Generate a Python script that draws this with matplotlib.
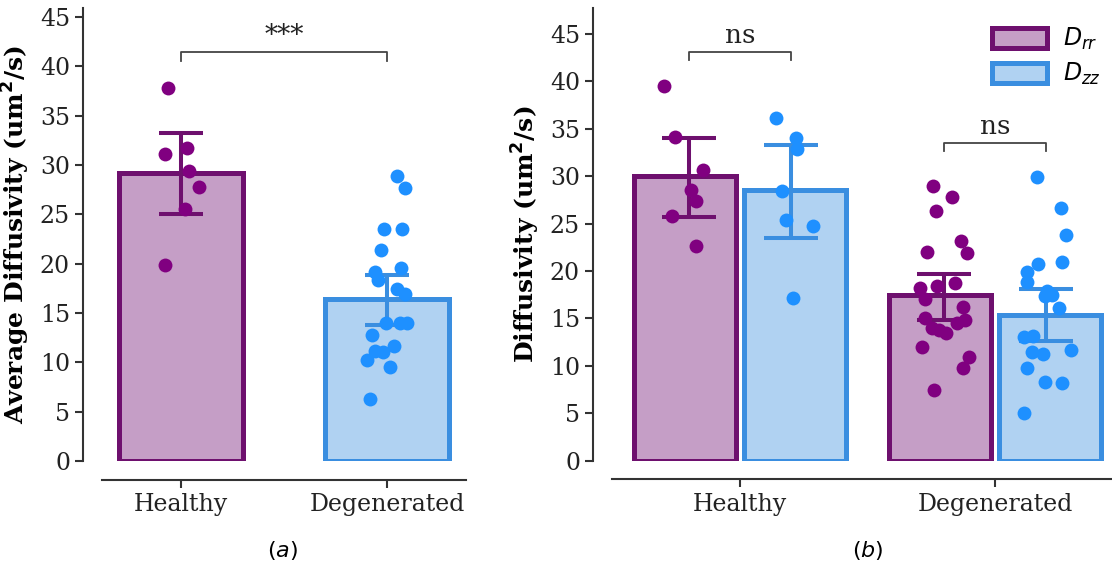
import numpy as np
import matplotlib
matplotlib.use('Agg')
import matplotlib.pyplot as plt
from matplotlib.patches import Patch

plt.rcParams['font.family'] = ['DejaVu Serif']
plt.rcParams['mathtext.fontset'] = 'dejavusans'

groups = ['Healthy', 'Degenerated']

# (a) average diffusivity
avg_mean = [29.2, 16.4]
avg_ci_low = [25.0, 13.8]
avg_ci_high = [33.2, 18.85]
avg_healthy = [37.8, 31.1, 31.7, 29.4, 27.8, 25.5, 19.9]
avg_healthy_jit = [-0.063, -0.073, 0.029, 0.039, 0.087, 0.019, -0.073]
avg_degen = [28.9, 27.7, 23.5, 23.5, 21.4, 19.6, 19.2, 18.3, 17.4, 16.9,
             14.0, 14.0, 13.95, 12.8, 11.65, 11.1, 11.0, 10.2, 9.5, 6.25]
avg_degen_jit = [0.047, 0.083, -0.018, 0.071, -0.029, 0.067, -0.058, -0.047, 0.044, 0.087,
                 -0.005, 0.063, 0.096, -0.074, 0.031, -0.058, -0.021, -0.099, 0.011, -0.083]

# (b) Drr / Dzz
drr_mean = [30.0, 17.5]
drr_ci_low = [25.7, 14.85]
drr_ci_high = [34.0, 19.7]
dzz_mean = [28.5, 15.4]
dzz_ci_low = [23.5, 12.6]
dzz_ci_high = [33.3, 18.1]

drr_healthy = [39.5, 34.1, 30.6, 28.5, 27.4, 25.8, 22.6]
drr_healthy_jit = [-0.096, -0.052, 0.056, 0.011, 0.027, -0.067, 0.030]
dzz_healthy = [36.15, 34.0, 32.85, 28.4, 25.4, 24.7, 17.2]
dzz_healthy_jit = [-0.058, 0.022, 0.023, -0.036, -0.018, 0.087, 0.007]
drr_degen = [28.96, 27.8, 26.3, 23.2, 21.9, 22.05, 18.7, 18.4, 18.2, 17.1, 16.25,
             15.0, 14.85, 14.5, 14.0, 13.75, 13.45, 12.0, 10.97, 9.75, 7.5]
drr_degen_jit = [-0.043, 0.031, -0.031, 0.067, 0.090, -0.066, 0.044, -0.027, -0.096, -0.076, 0.072,
                 -0.073, 0.080, 0.051, -0.049, -0.021, 0.008, -0.088, 0.096, 0.072, -0.041]
dzz_degen = [29.96, 26.6, 23.8, 21.0, 20.75, 19.9, 18.8, 17.9, 17.5, 17.4,
             16.15, 13.0, 13.2, 11.5, 11.2, 11.7, 9.75, 8.27, 8.16, 5.0]
dzz_degen_jit = [-0.035, 0.056, 0.075, 0.060, -0.031, -0.074, -0.076, 0.004, 0.021, -0.005,
                 0.051, -0.087, -0.051, -0.057, -0.014, 0.096, -0.074, -0.005, 0.060, -0.089]

#颜色
purple_edge = '#6e106e'
purple_fill = '#c59ec6'
purple_dot = '#800080'
blue_edge = '#3a8ee0'
blue_fill = '#b0d2f2'
blue_dot = '#1e90ff'
spine_col = '#333333'

fig = plt.figure(figsize=(11.12, 5.69), dpi=100)
ax1 = fig.add_axes([102/1112, 108/569, 364/1112, 453/569])
ax2 = fig.add_axes([612/1112, 108.3/569, 511/1112, 452.4/569])


def style_axis(ax, ylabel):
    for s in ['top', 'right']:
        ax.spines[s].set_visible(False)
    for s in ['left', 'bottom']:
        ax.spines[s].set_position(('outward', 13.5))
        ax.spines[s].set_color(spine_col)
        ax.spines[s].set_linewidth(1.5)
    ax.tick_params(axis='both', labelsize=17, length=6, width=1.5, color=spine_col, labelcolor='#222222')
    ax.set_yticks(np.arange(0, 46, 5))
    ax.set_xticks(range(len(groups)))
    ax.set_xticklabels(groups)
    ax.set_ylabel(ylabel, fontsize=18, fontweight='bold', labelpad=6)


def draw_group(ax, pos, means, lo, hi, width, err_pos, fill, edge, dot, pts, jits, capsize):
    ax.bar(pos, means, width=width, color=fill, edgecolor=edge, linewidth=3.6, zorder=1)
    means = np.array(means)
    yerr = [means - np.array(lo), np.array(hi) - means]
    ax.errorbar(err_pos, means, yerr=yerr, fmt='none', ecolor=edge, elinewidth=2.9,
                capsize=capsize, capthick=2.9, zorder=2)
    for p, vals, jit in zip(err_pos, pts, jits):
        ax.scatter(p + np.array(jit), vals, s=100, color=dot, linewidths=0, zorder=3)


def bracket(ax, x1, x2, y, h, text):
    ax.plot([x1, x1, x2, x2], [y - h, y, y, y - h], color='#444444', lw=1.3, zorder=4)
    ax.text((x1 + x2) / 2, y + 0.4, text, ha='center', va='bottom', fontsize=19, color='#222222')


x = np.arange(len(groups))

# (a)
draw_group(ax1, x[:1], avg_mean[:1], avg_ci_low[:1], avg_ci_high[:1], 0.6, x[:1],
           purple_fill, purple_edge, purple_dot, [avg_healthy], [avg_healthy_jit], 15.6)
draw_group(ax1, x[1:], avg_mean[1:], avg_ci_low[1:], avg_ci_high[1:], 0.6, x[1:],
           blue_fill, blue_edge, blue_dot, [avg_degen], [avg_degen_jit], 15.6)
ax1.set_xlim(-0.38, 1.38)
ax1.set_ylim(0, 45.9)
style_axis(ax1, 'Average Diffusivity (um$^\\mathbf{2}$/s)')
bracket(ax1, 0, 1, 41.4, 0.9, '***')

# (b)
draw_group(ax2, x - 0.215, drr_mean, drr_ci_low, drr_ci_high, 0.4, x - 0.2,
           purple_fill, purple_edge, purple_dot, [drr_healthy, drr_degen],
           [drr_healthy_jit, drr_degen_jit], 19.3)
draw_group(ax2, x + 0.215, dzz_mean, dzz_ci_low, dzz_ci_high, 0.4, x + 0.2,
           blue_fill, blue_edge, blue_dot, [dzz_healthy, dzz_degen],
           [dzz_healthy_jit, dzz_degen_jit], 19.3)
ax2.set_xlim(-0.5, 1.5)
ax2.set_ylim(0, 47.7)
style_axis(ax2, 'Diffusivity (um$^\\mathbf{2}$/s)')
bracket(ax2, -0.2, 0.2, 43.1, 0.85, 'ns')
bracket(ax2, 0.8, 1.2, 33.55, 0.85, 'ns')

handles = [Patch(facecolor=purple_fill, edgecolor=purple_edge, linewidth=3.6),
           Patch(facecolor=blue_fill, edgecolor=blue_edge, linewidth=3.6)]
leg = ax2.legend(handles, ['$D_{rr}$', '$D_{zz}$'], loc='upper right',
                 bbox_to_anchor=(1108/1112, 550/569), bbox_transform=fig.transFigure,
                 frameon=False, fontsize=17, handlelength=2.3, handleheight=0.9,
                 labelspacing=0.38, handletextpad=0.7, borderaxespad=0, borderpad=0.3)
for t in leg.get_texts():
    t.set_family('DejaVu Sans')

fig.text(283/1112, 1 - 551/569, '$(a)$', ha='center', va='center', fontsize=16, family='DejaVu Sans')
fig.text(868/1112, 1 - 551/569, '$(b)$', ha='center', va='center', fontsize=16, family='DejaVu Sans')

fig.savefig('out.png', dpi=100)
